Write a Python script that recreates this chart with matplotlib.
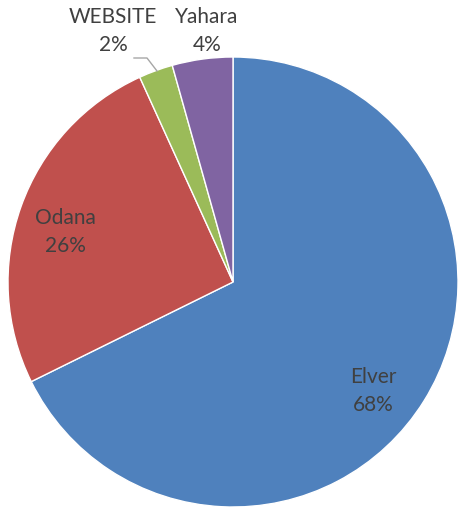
import matplotlib
matplotlib.use("Agg")
from matplotlib import pyplot as plt

# datos del grafico
categorias = ["Elver", "Odana", "WEBSITE", "Yahara"]
valores = [67.7, 25.5, 2.45, 4.35]
colores = ["#4F81BD", "#C0504D", "#9BBB59", "#8064A2"]

plt.rcParams['font.family'] = ['Lato', 'DejaVu Sans']

fig = plt.figure(figsize=(4.61, 5.10), dpi=100)
ax = fig.add_axes([0, 0, 1, 1])
ax.pie(valores, colors=colores, startangle=90, counterclock=False,
       radius=225, center=(0, 0),
       wedgeprops=dict(edgecolor='white', linewidth=1))
ax.set_xlim(-233, 461 - 233)
ax.set_ylim(-(510 - 283), 283)
ax.set_aspect('equal')
ax.axis('off')

# posiciones de las etiquetas (en pixeles relativos al centro)
total = sum(valores)
pos = [(140, -108), (-168, 51), (-120, 252), (-26, 252)]
for nombre, v, (x, y) in zip(categorias, valores, pos):
    pct = round(v / total * 100)
    ax.text(x, y, nombre + "\n" + str(pct) + "%", ha='center', va='center',
            fontsize=15, color='#404040', linespacing=1.5)

# linea guia de WEBSITE
ax.plot([-99, -86, -76], [224, 224, 211], color='#A6A6A6', lw=1)

fig.savefig("out.png", dpi=100)
